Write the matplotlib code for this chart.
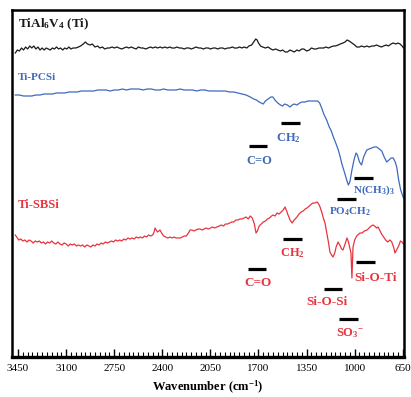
"""FTIR spectra of bare and coated TiAl6V4 (Ti, Ti-PCSi, Ti-SBSi)."""

import matplotlib

matplotlib.use("Agg")
import matplotlib.pyplot as plt
import numpy as np

# ---- spectra (wavenumber in cm-1, intensity in a.u.) ----
ti_wn = [3470, 3455, 3440, 3425, 3410, 3395, 3380, 3365, 3350, 3335, 3320, 3305, 3290, 3275,
         3260, 3245, 3230, 3215, 3200, 3185, 3170, 3155, 3140, 3125, 3110, 3095, 3080, 3065,
         3050, 3030, 3010, 2995, 2975, 2960, 2945, 2925, 2910, 2890, 2870, 2855, 2835, 2820,
         2800, 2785, 2765, 2750, 2730, 2715, 2695, 2680, 2660, 2645, 2625, 2610, 2590, 2575,
         2555, 2540, 2520, 2505, 2485, 2470, 2450, 2435, 2415, 2400, 2380, 2365, 2345, 2330,
         2310, 2295, 2275, 2260, 2240, 2225, 2205, 2190, 2170, 2155, 2135, 2120, 2100, 2085,
         2065, 2050, 2030, 2015, 1995, 1980, 1960, 1945, 1925, 1910, 1890, 1875, 1855, 1840,
         1820, 1805, 1785, 1770, 1750, 1735, 1720, 1710, 1700, 1685, 1670, 1650, 1630, 1610,
         1595, 1575, 1560, 1540, 1525, 1505, 1490, 1470, 1455, 1440, 1420, 1405, 1385, 1370,
         1350, 1330, 1315, 1295, 1280, 1260, 1245, 1225, 1210, 1190, 1175, 1155, 1140, 1120,
         1105, 1085, 1070, 1055, 1040, 1020, 1000, 985, 965, 950, 930, 910, 895, 875, 860,
         840, 825, 805, 790, 770, 755, 735, 720, 700, 685, 670, 655, 645]
ti_int = [304, 307, 306, 309, 307, 310, 308, 311, 309, 311, 308, 310, 307, 309,
          307, 309, 308, 307, 309, 308, 310, 308, 309, 307, 309, 308, 310, 308,
          309, 309, 310, 311, 313, 315, 313, 312, 313, 310, 311, 309, 310, 308,
          309, 309, 310, 309, 310, 309, 308, 309, 310, 309, 310, 309, 308, 310,
          309, 309, 308, 309, 310, 309, 310, 309, 310, 309, 310, 309, 310, 309,
          309, 310, 309, 309, 308, 309, 309, 308, 309, 310, 309, 309, 308, 309,
          309, 308, 309, 309, 308, 309, 309, 308, 309, 309, 310, 309, 309, 310,
          309, 310, 309, 311, 312, 315, 318, 317, 314, 311, 310, 309, 310, 308,
          307, 308, 307, 306, 307, 305, 305, 307, 306, 305, 307, 306, 308, 308,
          306, 307, 309, 308, 308, 309, 309, 309, 310, 309, 310, 311, 311, 312,
          313, 314, 315, 317, 316, 314, 312, 310, 310, 311, 310, 311, 310, 311, 311,
          312, 311, 310, 311, 312, 311, 313, 314, 313, 314, 313, 311, 309]

pcsi_wn = [3470, 3440, 3410, 3380, 3350, 3320, 3290, 3260, 3230, 3200, 3170, 3140, 3110,
           3080, 3050, 3020, 2990, 2960, 2930, 2900, 2870, 2840, 2810, 2780, 2750, 2720,
           2690, 2660, 2630, 2600, 2570, 2540, 2510, 2480, 2450, 2420, 2390, 2360, 2330,
           2300, 2270, 2240, 2210, 2180, 2150, 2120, 2090, 2060, 2030, 2000, 1970, 1940,
           1910, 1880, 1850, 1820, 1790, 1760, 1735, 1715, 1695, 1680, 1665, 1650, 1630,
           1610, 1595, 1580, 1560, 1540, 1525, 1510, 1490, 1470, 1455, 1440, 1420, 1400,
           1385, 1360, 1340, 1315, 1290, 1270, 1255, 1240, 1225, 1204, 1185, 1170, 1155,
           1135, 1119, 1105, 1095, 1075, 1058, 1046, 1035, 1020, 1005, 990, 980, 965, 950,
           935, 912, 895, 876, 860, 840, 820, 803, 785, 767, 750, 735, 719, 705, 694, 680,
           665, 655, 645]
pcsi_int = [262, 262, 261, 261, 261, 262, 262, 263, 263, 263, 264, 264, 264,
            265, 265, 265, 266, 266, 266, 266, 267, 267, 267, 266, 267, 267,
            268, 267, 268, 268, 268, 267, 268, 268, 267, 267, 268, 267, 267,
            267, 268, 267, 267, 267, 266, 267, 267, 266, 266, 266, 266, 266,
            265, 265, 264, 263, 262, 260, 258, 257, 255, 254, 253, 256, 258,
            260, 260, 257, 254, 252, 251, 253, 252, 250, 252, 253, 252, 254,
            255, 255, 256, 256, 256, 256, 254, 249, 243, 237, 230, 226, 220,
            213, 207, 200, 194, 185, 177, 172, 175, 187, 197, 204, 202, 195, 192,
            200, 207, 208, 209, 210, 210, 208, 206, 200, 195, 197, 199, 199, 195, 190, 177,
            167, 163, 159]

sbsi_wn = [3470, 3460, 3445, 3430, 3415, 3400, 3385, 3370, 3355, 3340, 3325, 3310, 3295,
           3280, 3265, 3250, 3235, 3220, 3205, 3190, 3175, 3160, 3145, 3130, 3115, 3100,
           3085, 3070, 3055, 3040, 3025, 3010, 2995, 2980, 2965, 2950, 2935, 2920, 2905,
           2890, 2875, 2860, 2845, 2830, 2815, 2800, 2785, 2770, 2755, 2740, 2725, 2710,
           2695, 2680, 2665, 2650, 2635, 2620, 2605, 2590, 2575, 2560, 2545, 2530, 2515,
           2500, 2485, 2470, 2460, 2453, 2445, 2435, 2425, 2417, 2405, 2390, 2375, 2360,
           2345, 2330, 2315, 2300, 2285, 2270, 2255, 2240, 2225, 2210, 2198, 2185, 2170,
           2155, 2140, 2126, 2110, 2095, 2080, 2065, 2050, 2035, 2020, 2002, 1985, 1970,
           1955, 1940, 1925, 1910, 1895, 1880, 1865, 1850, 1835, 1820, 1805, 1790, 1775,
           1760, 1745, 1730, 1718, 1708, 1695, 1680, 1665, 1650, 1635, 1620, 1605, 1594,
           1580, 1565, 1550, 1535, 1520, 1507, 1495, 1485, 1470, 1456, 1440, 1420, 1405,
           1390, 1375, 1360, 1347, 1330, 1315, 1303, 1290, 1274, 1262, 1252, 1240, 1228,
           1216, 1200, 1190, 1180, 1168, 1158, 1145, 1135, 1121, 1105, 1095, 1085, 1070,
           1056, 1045, 1035, 1027, 1020, 1012, 1000, 985, 970, 961, 945, 930, 910, 895,
           880, 867, 855, 840, 830, 815, 800, 794, 775, 760, 743, 730, 715, 707, 695,
           680, 667, 655, 645]
sbsi_int = [122, 120, 117, 118, 116, 117, 115, 117, 116, 114, 116, 115, 116,
            114, 115, 113, 115, 114, 116, 114, 113, 115, 113, 112, 114, 113,
            111, 113, 112, 113, 111, 112, 111, 112, 110, 112, 111, 110, 112,
            111, 113, 112, 114, 113, 115, 114, 115, 116, 115, 117, 116, 117,
            116, 118, 117, 119, 118, 119, 118, 120, 119, 120, 119, 121, 120,
            122, 121, 122, 125, 129, 127, 125, 126, 127, 124, 121, 120, 119,
            120, 119, 120, 119, 119, 119, 120, 121, 121, 124, 127, 127, 126,
            127, 128, 128, 127, 128, 129, 128, 129, 130, 129, 130, 131, 132,
            131, 133, 133, 134, 135, 135, 137, 137, 138, 138, 139, 140, 138,
            141, 139, 133, 124, 126, 131, 133, 135, 136, 138, 139, 141, 142,
            141, 144, 143, 145, 147, 150, 146, 142, 137, 134, 137, 140, 143,
            145, 146, 148, 149, 151, 153, 154, 154, 155, 153, 150, 145, 139,
            134, 122, 114, 105, 102, 100, 104, 110, 115, 111, 108, 107, 113,
            119, 115, 109, 104, 79, 110, 117, 121, 123, 124, 124, 126, 127, 129,
            131, 132, 131, 129, 130, 126, 122, 121, 117, 115, 117, 115, 109, 104, 107,
            111, 116, 115, 113]

# ---- band assignments: label, wavenumber of the marker, marker level ----
pcsi_bands = ["C=O", "CH$_2$", "PO$_4$CH$_2$", "N(CH$_3$)$_3$"]
pcsi_band_wn = [1703, 1467, 1060, 936]
pcsi_band_lvl = [211, 234, 158, 179]

sbsi_bands = ["C=O", "CH$_2$", "Si-O-Si", "Si-O-Ti", "SO$_3$$^{-}$"]
sbsi_band_wn = [1711, 1452, 1157, 921, 1045]
sbsi_band_lvl = [88, 118, 68, 95, 38]

major_ticks = [3450, 3100, 2750, 2400, 2050, 1700, 1350, 1000, 650]

BLUE = "#3e69bd"
RED = "#e8343f"

plt.rcParams["font.family"] = ["Liberation Serif", "DejaVu Serif"]
plt.rcParams["mathtext.fontset"] = "custom"
plt.rcParams["mathtext.rm"] = "Liberation Serif:bold"
plt.rcParams["mathtext.it"] = "Liberation Serif:bold"
plt.rcParams["mathtext.bf"] = "Liberation Serif:bold"

fig = plt.figure(figsize=(4.11, 3.97), dpi=100)
ax = fig.add_axes([12 / 411, 40 / 397, 392 / 411, 347 / 397])

ax.plot(ti_wn, ti_int, color="#1a1a1a", lw=0.9)
ax.plot(pcsi_wn, pcsi_int, color=BLUE, lw=0.9)
ax.plot(sbsi_wn, sbsi_int, color=RED, lw=0.9)

bar_half = 68
for name, wn, lvl in zip(pcsi_bands, pcsi_band_wn, pcsi_band_lvl):
    ax.plot([wn - bar_half, wn + bar_half], [lvl, lvl], color="black", lw=2.3,
            solid_capstyle="butt")
for name, wn, lvl in zip(sbsi_bands, sbsi_band_wn, sbsi_band_lvl):
    ax.plot([wn - bar_half, wn + bar_half], [lvl, lvl], color="black", lw=2.3,
            solid_capstyle="butt")

# blue labels (placed by hand like in the original figure)
ax.text(1696, 196, "C=O", color=BLUE, fontsize=9, fontweight="bold", ha="center", va="center")
ax.text(1485, 219, "CH$_2$", color=BLUE, fontsize=9, fontweight="bold", ha="center", va="center")
ax.text(1034, 145, "PO$_4$CH$_2$", color=BLUE, fontsize=8, fontweight="bold", ha="center", va="center")
ax.text(1012, 167, "N(CH$_3$)$_3$", color=BLUE, fontsize=8, fontweight="bold", ha="left", va="center")

# red labels
ax.text(1703, 74, "C=O", color=RED, fontsize=9.5, fontweight="bold", ha="center", va="center")
ax.text(1456, 104, "CH$_2$", color=RED, fontsize=9, fontweight="bold", ha="center", va="center")
ax.text(1201, 55, "Si-O-Si", color=RED, fontsize=9.5, fontweight="bold", ha="center", va="center")
ax.text(845, 79, "Si-O-Ti", color=RED, fontsize=9.5, fontweight="bold", ha="center", va="center")
ax.text(1034, 24, "SO$_3$$^{-}$", color=RED, fontsize=9, fontweight="bold", ha="center", va="center")

# sample names
ax.text(3450, 333, "TiAl$_6$V$_4$ (Ti)", color="#1a1a1a", fontsize=9.5, fontweight="bold",
        ha="left", va="center")
ax.text(3455, 279, "Ti-PCSi", color=BLUE, fontsize=8, fontweight="bold", ha="left", va="center")
ax.text(3455, 152, "Ti-SBSi", color=RED, fontsize=9, fontweight="bold", ha="left", va="center")

ax.set_xlim(3494, 641)
ax.set_ylim(0, 347)
ax.set_xticks(major_ticks)
ax.set_xticks(np.arange(650, 3451, 35), minor=True)
ax.set_xticklabels([str(t) for t in major_ticks], fontsize=8)
ax.set_yticks([])
ax.tick_params(axis="x", which="major", direction="in", length=6, width=1, pad=5)
ax.tick_params(axis="x", which="minor", direction="in", length=3.5, width=0.8)
for side in ["left", "right", "top"]:
    ax.spines[side].set_linewidth(1.8)
ax.spines["bottom"].set_linewidth(2.4)

ax.set_xlabel("Wavenumber (cm$^{-1}$)", fontsize=9, fontweight="bold", labelpad=4)

fig.savefig("out.png", dpi=100)
